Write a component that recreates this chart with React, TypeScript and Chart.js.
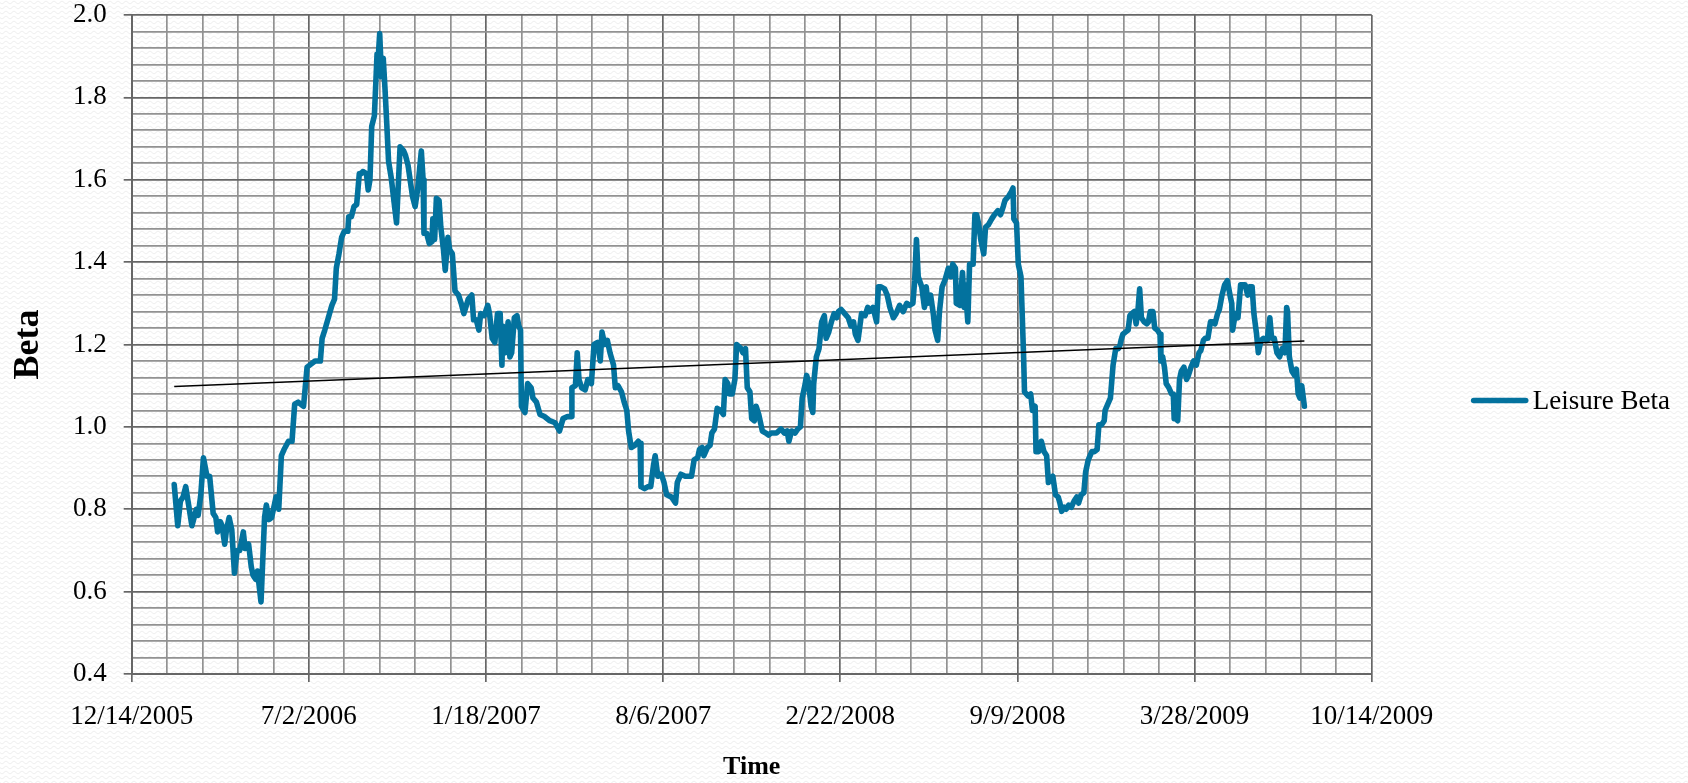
import React, { useEffect, useRef } from 'react';
import { Chart, registerables } from 'chart.js';

Chart.register(...registerables);

// x axis: days since 12/14/2005 (linear axis, ticks every 200 days labelled as dates)
const xTickLabels = ['12/14/2005', '7/2/2006', '1/18/2007', '8/6/2007', '2/22/2008', '9/9/2008', '3/28/2009', '10/14/2009'];
const X_MAX_DAYS = 1400;
const X_MINOR_STEP = 40;
const Y_MIN = 0.4;
const Y_MAX = 2.0;
const Y_MINOR_STEP = 0.04;

const seriesLabel = 'Leisure Beta';

const daysFromStart = [
  48, 52, 55, 58, 61, 68, 73, 75, 78, 81, 85, 88, 92, 95, 97, 100, 102, 105, 107, 110,
  113, 116, 119, 122, 126, 128, 132, 135, 137, 140, 142, 146, 150, 152, 155, 158, 163, 166, 169, 172,
  177, 181, 184, 188, 194, 198, 201, 207, 213, 215, 218, 222, 226, 229, 231, 234, 237, 240, 244, 245,
  248, 251, 254, 257,
  259, 261, 265, 267, 269, 271, 274, 277, 278, 280, 282, 284, 286, 288, 290, 293, 296, 299, 303, 307,
  309, 312, 317, 320, 323, 327, 329, 330, 333, 336, 339, 340, 342, 344, 347, 349, 352, 354, 357, 359,
  362, 365, 369, 372, 375, 380, 384, 386, 389, 392, 394, 398, 402, 404, 407, 410, 413, 416, 418, 419,
  422, 425, 427, 429, 432, 435, 437, 439, 440, 444, 447, 451, 453, 457, 461, 466, 472,
  478, 483, 487, 492, 496, 497, 501, 503, 505, 508, 512, 515, 519, 522, 526, 529, 531, 534, 537, 540,
  544, 546, 549, 553, 556, 559, 561, 564, 568, 572, 574, 575, 579, 583, 586, 589, 591, 594, 598, 601,
  604, 609, 611, 614, 616, 620, 625, 628, 632, 635, 639, 641, 644, 646, 650, 653, 655, 658, 661, 665,
  668, 670, 673, 675, 678, 681, 683,
  688, 690, 693, 695, 698, 700, 703, 705, 708, 712, 716, 719, 722, 724, 728, 733, 737, 740, 742, 745,
  749, 752, 755, 757, 760, 762, 764, 767, 769, 770, 773, 776, 779, 782, 784, 787, 790, 793, 796, 798,
  801, 805, 809, 812, 815, 817, 820, 824, 828, 831, 833, 837, 841, 843, 846, 850, 853, 856, 860, 863,
  867, 871, 875, 878, 882, 884, 886, 888, 892, 895,
  897, 899, 902, 905, 907, 910, 912, 915, 918, 922, 925, 927, 930, 931, 935, 938, 940, 941, 944, 946,
  950, 952, 954, 956, 959, 962, 964, 967, 971, 974, 978, 981, 984, 986, 990, 993, 995, 996, 999, 1001,
  1004, 1005, 1007, 1008, 1012, 1015, 1017, 1020, 1021, 1024, 1027, 1030, 1033, 1035, 1038, 1040, 1043, 1046, 1048, 1050,
  1053, 1055, 1058, 1061, 1064, 1067, 1069, 1072, 1075, 1077, 1080, 1084, 1087, 1090, 1092, 1095, 1098, 1099, 1103, 1105,
  1108, 1111, 1114, 1116,
  1117, 1119, 1122, 1125, 1127, 1129, 1132, 1134, 1136, 1138, 1140, 1143, 1146, 1148, 1150, 1153, 1155, 1158, 1161, 1162,
  1164, 1166, 1168, 1171, 1174, 1176, 1177, 1179, 1181, 1183, 1185, 1188, 1191, 1193, 1196, 1199, 1202, 1205, 1207, 1210,
  1212, 1215, 1218, 1221, 1223, 1226, 1228, 1231, 1234, 1237, 1240, 1242, 1243, 1246, 1249, 1252, 1255, 1257, 1260, 1262,
  1265, 1267, 1270, 1272, 1275, 1278, 1282, 1285, 1287, 1290, 1293, 1296, 1299, 1302, 1304, 1305, 1307, 1310, 1313, 1315,
  1317, 1319, 1321, 1324,
];

const leisureBeta = [
  0.86, 0.76, 0.82, 0.83, 0.855, 0.76, 0.80, 0.785, 0.835, 0.925, 0.88, 0.88, 0.79, 0.78, 0.745, 0.77, 0.76, 0.715, 0.75, 0.78,
  0.75, 0.645, 0.70, 0.70, 0.745, 0.705, 0.715, 0.66, 0.64, 0.63, 0.65, 0.575, 0.78, 0.81, 0.775, 0.78, 0.83, 0.80, 0.93, 0.945,
  0.965, 0.965, 1.055, 1.06, 1.05, 1.145, 1.15, 1.16, 1.16, 1.215, 1.235, 1.265, 1.295, 1.31, 1.385, 1.42, 1.46, 1.475, 1.475, 1.51,
  1.51, 1.535, 1.54, 1.615,
  1.615, 1.62, 1.615, 1.575, 1.60, 1.73, 1.755, 1.905, 1.885, 1.955, 1.85, 1.895, 1.82, 1.735, 1.645, 1.605, 1.55, 1.495, 1.68, 1.67,
  1.66, 1.635, 1.56, 1.535, 1.58, 1.67, 1.60, 1.47, 1.47, 1.445, 1.45, 1.505, 1.455, 1.555, 1.55, 1.485, 1.43, 1.38, 1.46, 1.43,
  1.42, 1.33, 1.32, 1.30, 1.275, 1.31, 1.32, 1.26, 1.26, 1.235, 1.275, 1.27, 1.295, 1.275, 1.215, 1.205, 1.275, 1.275, 1.15, 1.245,
  1.18, 1.255, 1.17, 1.18, 1.265, 1.27, 1.245, 1.235, 1.05, 1.035, 1.105, 1.095, 1.07, 1.06, 1.03, 1.025, 1.015,
  1.01, 0.99, 1.02, 1.025, 1.025, 1.095, 1.10, 1.18, 1.115, 1.095, 1.09, 1.115, 1.105, 1.20, 1.205, 1.16, 1.23, 1.20, 1.21, 1.18,
  1.15, 1.095, 1.10, 1.085, 1.06, 1.04, 0.99, 0.95, 0.955, 0.965, 0.96, 0.855, 0.85, 0.855, 0.855, 0.905, 0.93, 0.88, 0.885, 0.865,
  0.835, 0.83, 0.825, 0.815, 0.865, 0.885, 0.88, 0.88, 0.88, 0.92, 0.925, 0.945, 0.95, 0.93, 0.95, 0.955, 0.985, 0.995, 1.045, 1.04,
  1.03, 1.115, 1.105, 1.08, 1.08, 1.115, 1.20,
  1.19, 1.18, 1.19, 1.095, 1.085, 1.02, 1.015, 1.05, 1.03, 0.99, 0.985, 0.98, 0.985, 0.985, 0.985, 0.995, 0.985, 0.99, 0.965, 0.99,
  0.985, 0.995, 1.00, 1.07, 1.10, 1.125, 1.11, 1.05, 1.035, 1.105, 1.17, 1.19, 1.255, 1.27, 1.215, 1.23, 1.255, 1.275, 1.265, 1.28,
  1.285, 1.275, 1.265, 1.245, 1.255, 1.225, 1.21, 1.275, 1.27, 1.29, 1.28, 1.29, 1.255, 1.34, 1.34, 1.335, 1.32, 1.29, 1.265, 1.275,
  1.295, 1.28, 1.30, 1.295, 1.30, 1.355, 1.455, 1.365, 1.34, 1.29,
  1.34, 1.30, 1.32, 1.275, 1.235, 1.21, 1.28, 1.34, 1.355, 1.385, 1.365, 1.395, 1.385, 1.30, 1.295, 1.375, 1.29, 1.345, 1.255, 1.395,
  1.395, 1.515, 1.515, 1.495, 1.45, 1.42, 1.485, 1.49, 1.505, 1.515, 1.525, 1.515, 1.535, 1.55, 1.56, 1.57, 1.58, 1.505, 1.495, 1.395,
  1.365, 1.30, 1.17, 1.085, 1.075, 1.08, 1.04, 1.05, 0.94, 0.94, 0.965, 0.94, 0.93, 0.865, 0.875, 0.88, 0.835, 0.83, 0.815, 0.795,
  0.805, 0.80, 0.81, 0.805, 0.82, 0.83, 0.815, 0.835, 0.84, 0.89, 0.92, 0.94, 0.94, 0.945, 1.005, 1.005, 1.015, 1.04, 1.06, 1.07,
  1.15, 1.19, 1.19, 1.20,
  1.21, 1.225, 1.23, 1.235, 1.27, 1.275, 1.28, 1.25, 1.28, 1.335, 1.265, 1.255, 1.25, 1.255, 1.28, 1.28, 1.24, 1.235, 1.225, 1.16,
  1.17, 1.145, 1.105, 1.095, 1.08, 1.08, 1.02, 1.02, 1.015, 1.115, 1.135, 1.145, 1.115, 1.125, 1.145, 1.16, 1.15, 1.18, 1.185, 1.21,
  1.215, 1.215, 1.255, 1.255, 1.25, 1.275, 1.285, 1.32, 1.345, 1.355, 1.32, 1.30, 1.235, 1.275, 1.265, 1.345, 1.345, 1.345, 1.32, 1.34,
  1.34, 1.275, 1.225, 1.18, 1.21, 1.215, 1.21, 1.265, 1.215, 1.215, 1.18, 1.17, 1.19, 1.18, 1.29, 1.28, 1.17, 1.135, 1.125, 1.14,
  1.08, 1.07, 1.10, 1.05,
];

// Linear trendline (as drawn by the spreadsheet) endpoints
const trendDays = [48, 1324];
const trendBeta = [1.098, 1.2085];

const LINE_COLOR = '#03729E';
const FONT = '"Liberation Serif", "Times New Roman", serif';

const isMajorX = (v: number) => Math.round(v) % 200 === 0;
const isMajorY = (v: number) => Math.round(v * 100) % 20 === 0;

function makeWavePattern(ctx: CanvasRenderingContext2D) {
  const tile = document.createElement('canvas');
  tile.width = 8;
  tile.height = 5;
  const t = tile.getContext('2d')!;
  t.fillStyle = '#ffffff';
  t.fillRect(0, 0, 8, 5);
  t.strokeStyle = '#ececec';
  t.lineWidth = 1;
  t.beginPath();
  for (let x = 0; x <= 8; x += 0.5) {
    const y = 2.5 + 1.2 * Math.sin((x / 8) * Math.PI * 2);
    if (x === 0) t.moveTo(x, y);
    else t.lineTo(x, y);
  }
  t.stroke();
  return ctx.createPattern(tile, 'repeat');
}

export default function App() {
  const ref = useRef<HTMLCanvasElement>(null);

  useEffect(() => {
    const canvas = ref.current;
    if (!canvas) return;

    const backgroundPlugin = {
      id: 'paperBackground',
      beforeDraw(chart: any) {
        const { ctx, width, height } = chart;
        ctx.save();
        const p = makeWavePattern(ctx);
        ctx.fillStyle = p || '#fff';
        ctx.fillRect(0, 0, width, height);
        ctx.restore();
      },
    };

    const legendPlugin = {
      id: 'sideLegend',
      afterDraw(chart: any) {
        const { ctx, chartArea } = chart;
        const cx = chartArea.right + 102;
        const cy = (chartArea.top + chartArea.bottom) / 2 + 56;
        ctx.save();
        ctx.strokeStyle = LINE_COLOR;
        ctx.lineWidth = 5.6;
        ctx.lineCap = 'round';
        ctx.beginPath();
        ctx.moveTo(cx, cy);
        ctx.lineTo(cx + 52, cy);
        ctx.stroke();
        ctx.fillStyle = '#000';
        ctx.font = `27px ${FONT}`;
        ctx.textBaseline = 'middle';
        ctx.textAlign = 'left';
        ctx.fillText(seriesLabel, cx + 59, cy + 1);
        ctx.restore();
      },
    };

    const chart = new Chart(canvas, {
      type: 'line',
      data: {
        datasets: [
          {
            label: seriesLabel,
            data: daysFromStart.map((d, i) => ({ x: d, y: leisureBeta[i] })),
            borderColor: LINE_COLOR,
            backgroundColor: LINE_COLOR,
            borderWidth: 5.6,
            pointRadius: 0,
            tension: 0,
            borderJoinStyle: 'round',
            borderCapStyle: 'round',
            order: 2,
          },
          {
            label: 'Linear (Leisure Beta)',
            data: trendDays.map((d, i) => ({ x: d, y: trendBeta[i] })),
            borderColor: '#000',
            borderWidth: 1.4,
            pointRadius: 0,
            tension: 0,
            order: 1,
          },
        ],
      },
      options: {
        animation: false,
        responsive: false,
        layout: { padding: { top: 15, left: 0, right: 316.3, bottom: 0 } },
        plugins: { legend: { display: false }, tooltip: { enabled: false } },
        scales: {
          x: {
            type: 'linear',
            min: 0,
            max: X_MAX_DAYS,
            afterBuildTicks: (scale: any) => {
              const t = [];
              for (let v = 0; v <= X_MAX_DAYS; v += X_MINOR_STEP) t.push({ value: v });
              scale.ticks = t;
            },
            afterFit: (scale: any) => {
              scale.height = 109;
            },
            ticks: {
              autoSkip: false,
              maxRotation: 0,
              minRotation: 0,
              padding: 19,
              color: '#000',
              font: { family: FONT, size: 27, lineHeight: 1.2 },
              callback: (v: any) => (isMajorX(Number(v)) ? xTickLabels[Math.round(Number(v) / 200)] : ''),
            },
            grid: {
              color: (ctx: any) => (isMajorX(ctx.tick?.value ?? 1) ? '#666666' : '#929292'),
              lineWidth: 1.7,
              tickLength: 8,
              tickColor: (ctx: any) => (isMajorX(ctx.tick?.value ?? 1) ? '#666666' : 'rgba(0,0,0,0)'),
              tickWidth: 1.7,
            },
            border: { color: '#666666', width: 2 },
            title: {
              display: true,
              text: 'Time',
              color: '#000',
              font: { family: FONT, size: 26, weight: 'bold', lineHeight: 1.2 },
              padding: { top: 0, bottom: 0 },
            },
          },
          y: {
            type: 'linear',
            min: Y_MIN,
            max: Y_MAX,
            afterBuildTicks: (scale: any) => {
              const t = [];
              const n = Math.round((Y_MAX - Y_MIN) / Y_MINOR_STEP);
              for (let i = 0; i <= n; i++) t.push({ value: Math.round((Y_MIN + i * Y_MINOR_STEP) * 100) / 100 });
              scale.ticks = t;
            },
            afterFit: (scale: any) => {
              scale.width = 131.7;
              scale.paddingTop = 0;
              scale.paddingBottom = 0;
            },
            ticks: {
              autoSkip: false,
              padding: 17,
              color: '#000',
              font: { family: FONT, size: 27, lineHeight: 1.1 },
              callback: (v: any) => (isMajorY(Number(v)) ? Number(v).toFixed(1) : ''),
            },
            grid: {
              color: (ctx: any) => (isMajorY(ctx.tick?.value ?? 0.41) ? '#666666' : '#929292'),
              lineWidth: 1.7,
              tickLength: 8,
              tickColor: (ctx: any) => (isMajorY(ctx.tick?.value ?? 0.41) ? '#666666' : 'rgba(0,0,0,0)'),
              tickWidth: 1.7,
            },
            border: { color: '#666666', width: 2 },
            title: {
              display: true,
              text: 'Beta',
              color: '#000',
              font: { family: FONT, size: 36, weight: 'bold', lineHeight: 1.2 },
              padding: { top: 7, bottom: 0 },
            },
          },
        },
      },
      plugins: [backgroundPlugin, legendPlugin],
    } as any);

    return () => chart.destroy();
  }, []);

  return (
    <div style={{ position: 'absolute', left: 0, top: 0, width: 1688, height: 783, background: '#fff' }}>
      <canvas ref={ref} width={1688} height={783} style={{ display: 'block', width: 1688, height: 783 }} />
    </div>
  );
}
